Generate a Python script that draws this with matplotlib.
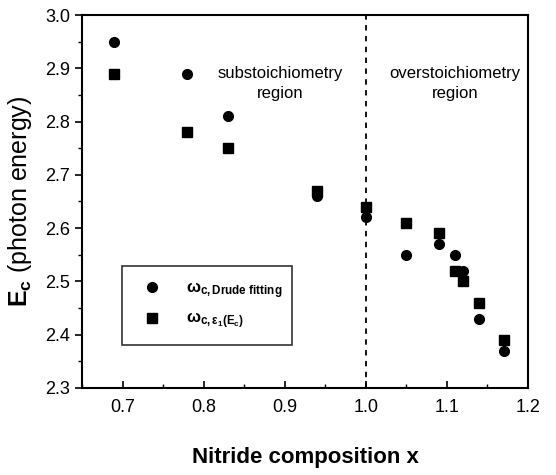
import numpy as np
import matplotlib.pyplot as plt
from matplotlib.ticker import MultipleLocator

plt.rcParams['font.family'] = ['Liberation Sans Narrow', 'Liberation Sans', 'DejaVu Sans']
plt.rcParams['mathtext.fontset'] = 'custom'
plt.rcParams['mathtext.rm'] = 'Liberation Sans'
plt.rcParams['mathtext.it'] = 'Liberation Sans:bold'
plt.rcParams['mathtext.bf'] = 'Liberation Sans:bold'

# =========================
# DATA
# =========================
x_comp = [0.69, 0.78, 0.83, 0.94, 1.00, 1.05, 1.09, 1.11, 1.12, 1.14, 1.17]
e_drude = [2.95, 2.89, 2.81, 2.66, 2.62, 2.55, 2.57, 2.55, 2.52, 2.43, 2.37]
e_eps = [2.89, 2.78, 2.75, 2.67, 2.64, 2.61, 2.59, 2.52, 2.50, 2.46, 2.39]

label_drude = r"$\omega_{\mathbf{c,Drude\ fitting}}$"
label_eps = r"$\omega_{\mathbf{c,}\varepsilon_{\mathbf{1}}\mathbf{(E_c)}}$"

# =========================
# PLOT
# =========================
fig = plt.figure(figsize=(5.56, 4.75), dpi=100)
ax = fig.add_axes([0.1475, 0.1832, 0.802, 0.7852])

ax.plot(x_comp, e_drude, 'o', color='black', markersize=7, label=label_drude)
ax.plot(x_comp, e_eps, 's', color='black', markersize=6.5, label=label_eps)

ax.axvline(1.0, color='black', linestyle=(0, (3, 3)), linewidth=1.3)

ax.set_xlim(0.65, 1.2)
ax.set_ylim(2.3, 3.0)
ax.xaxis.set_major_locator(MultipleLocator(0.1))
ax.xaxis.set_minor_locator(MultipleLocator(0.05))
ax.yaxis.set_major_locator(MultipleLocator(0.1))
ax.yaxis.set_minor_locator(MultipleLocator(0.05))
ax.set_xticks([0.7, 0.8, 0.9, 1.0, 1.1, 1.2])
ax.set_xticklabels(["0.7", "0.8", "0.9", "1.0", "1.1", "1.2"])

ax.tick_params(axis='x', which='both', direction='in', top=False, labelsize=13, pad=8)
ax.tick_params(axis='y', which='both', direction='out', right=False, labelsize=13)
ax.tick_params(which='major', length=5, width=1.2)
ax.tick_params(which='minor', length=3, width=1)
for sp in ax.spines.values():
    sp.set_linewidth(1.5)

ax.set_xlabel("Nitride composition x", fontsize=16, fontweight='bold', labelpad=22)
ax.set_ylabel(r"$\mathbf{E_c}$ (photon energy)", fontsize=18, labelpad=8)

ax.text(0.894, 2.872, "substoichiometry\nregion", ha='center', va='center',
        fontsize=12, linespacing=1.4)
ax.text(1.11, 2.872, "overstoichiometry\nregion", ha='center', va='center',
        fontsize=12, linespacing=1.4)

leg = ax.legend(loc='upper left', bbox_to_anchor=(0.07, 0.35, 0.42, 0.0),
                mode='expand', frameon=True, fancybox=False, edgecolor='black',
                fontsize=12, handletextpad=1.0, borderpad=0.85, labelspacing=0.6,
                handlelength=2.0)
leg.get_frame().set_linewidth(1.2)

fig.savefig("out.png", dpi=100)
